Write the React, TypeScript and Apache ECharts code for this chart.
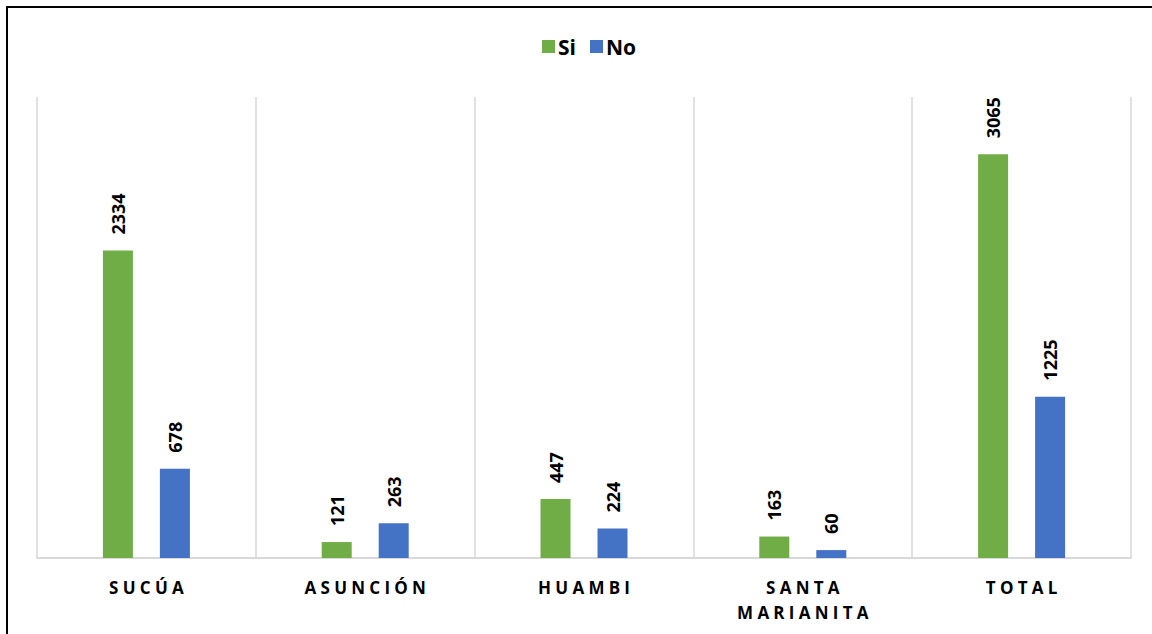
import React, { useEffect, useRef } from "react";
import * as echarts from "echarts";

const categories = ["SUCÚA", "ASUNCIÓN", "HUAMBI", "SANTA MARIANITA", "TOTAL"];
const siValues = [2334, 121, 447, 163, 3065];
const noValues = [678, 263, 224, 60, 1225];
const seriesNames = ["Si", "No"];
const colors = ["#70ad47", "#4472c4"];

const FONT = "'Open Sans', 'Noto Sans', sans-serif";

function spaced(name: string): string {
  return name
    .split(" ")
    .map((w) => w.split("").join("\u2005"))
    .join("\n");
}

export default function App() {
  const ref = useRef<HTMLDivElement>(null);
  useEffect(() => {
    if (!ref.current) return;
    const chart = echarts.init(ref.current, undefined, { renderer: "svg" });
    const labelCfg = {
      show: true,
      position: "top",
      rotate: 90,
      align: "left",
      verticalAlign: "middle",
      distance: 16,
      color: "#000",
      fontFamily: FONT,
      fontWeight: "bold",
      fontSize: 18,
    };
    chart.setOption({
      animation: false,
      backgroundColor: "#fff",
      legend: {
        data: seriesNames,
        top: 31,
        left: 537,
        itemWidth: 13,
        itemHeight: 13,
        itemGap: 14,
        icon: "rect",
        textStyle: {
          color: "#000",
          fontFamily: FONT,
          fontWeight: "bold",
          fontSize: 21,
          padding: [0, 0, 0, -2],
        },
      },
      grid: { left: 37, right: 21, top: 97, bottom: 76, containLabel: false },
      xAxis: {
        type: "category",
        data: categories,
        boundaryGap: true,
        axisLine: { show: true, lineStyle: { color: "#d9d9d9", width: 2 } },
        axisTick: { show: false },
        splitLine: { show: true, lineStyle: { color: "#d9d9d9", width: 1.5 } },
        axisLabel: {
          interval: 0,
          margin: 17,
          color: "#000",
          fontFamily: FONT,
          fontWeight: "bold",
          fontSize: 17,
          lineHeight: 25,
          formatter: (v: string) => spaced(v),
        },
      },
      yAxis: {
        type: "value",
        min: 0,
        max: 3500,
        show: false,
        splitLine: { show: false },
      },
      graphic: [
        {
          type: "rect",
          silent: true,
          z: 100,
          shape: { x: 7, y: 7, width: 1300, height: 800 },
          style: { fill: "none", stroke: "#000", lineWidth: 2 },
        },
      ],
      series: [
        {
          name: seriesNames[0],
          type: "bar",
          data: siValues,
          barWidth: 30,
          barGap: "90%",
          itemStyle: { color: colors[0] },
          label: labelCfg,
        },
        {
          name: seriesNames[1],
          type: "bar",
          data: noValues,
          barWidth: 30,
          barGap: "90%",
          itemStyle: { color: colors[1] },
          label: labelCfg,
        },
      ],
    });
    return () => chart.dispose();
  }, []);
  return (
    <div
      ref={ref}
      style={{ position: "absolute", left: 0, top: 0, width: 1152, height: 634 }}
    />
  );
}
